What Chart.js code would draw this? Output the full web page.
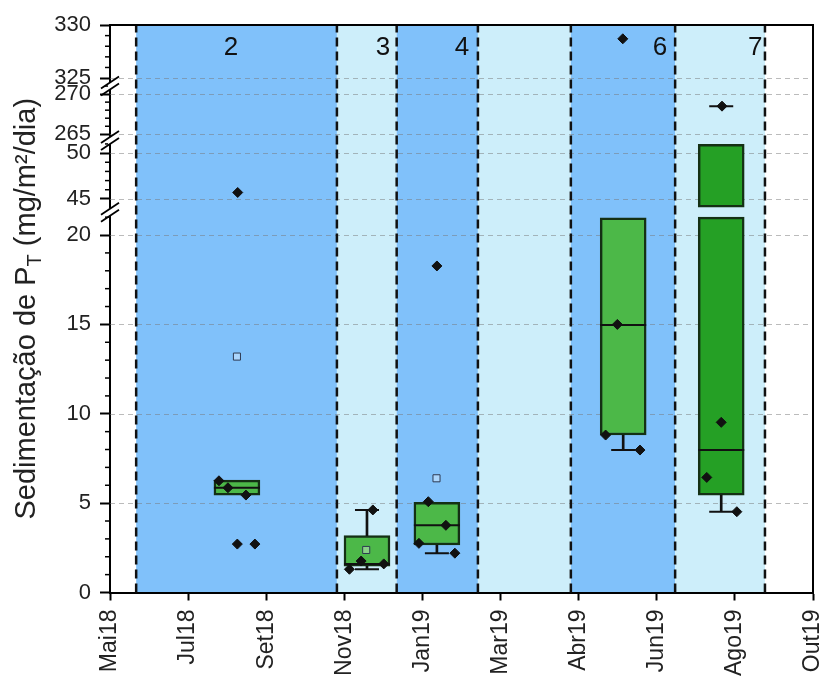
<!DOCTYPE html>
<html>
<head>
<meta charset="utf-8">
<script src="https://cdn.jsdelivr.net/npm/chart.js@4.4.1/dist/chart.umd.min.js"></script>
<style>
  html, body { margin: 0; padding: 0; background: #fff; }
  #wrap { width: 825px; height: 679px; }
</style>
</head>
<body>
<div id="wrap"><canvas id="c" width="825" height="679"></canvas></div>
<script>
// ── Data (x = months since May 2018) ─────────────────────────────────────────

const X_TICK_LABELS = ['Mai18', 'Jul18', 'Set18', 'Nov18', 'Jan19', 'Mar19', 'Abr19', 'Jun19', 'Ago19', 'Out19'];

// campaign periods (shaded bands)
const BAND_START  = [0.67, 5.81, 7.34, 9.42, 11.80, 14.47];
const BAND_END    = [5.81, 7.34, 9.42, 11.80, 14.47, 16.77];
const BAND_LABELS = ['2', '3', '4', '', '6', '7'];
const BAND_LABEL_X = [3.10, 6.99, 9.01, null, 14.08, 16.52];

// box plots
const BOX_X    = [3.25, 6.58, 8.37, 13.14, 15.65];
const BOX_Q1   = [5.45, 1.48, 2.66, 8.81, 5.45];
const BOX_MED  = [5.86, 1.60, 3.76, 14.97, 7.97];
const BOX_Q3   = [6.29, 3.18, 5.05, 20.97, 50.95];
const WHISK_LO = [null, 1.30, 2.20, 7.97, 4.52];
const WHISK_HI = [null, 4.62, null, null, 268.5];

// individual samples
const PT_X = [2.79, 3.02, 3.48, 3.26, 3.71, 3.27,
              6.13, 6.43, 7.01, 6.73,
              8.15, 8.60, 7.91, 8.83, 8.37,
              12.69, 12.99, 13.57, 13.13,
              15.65, 15.28, 16.05, 15.67];
const PT_Y = [6.25, 5.86, 5.45, 2.71, 2.71, 45.7,
              1.30, 1.76, 1.60, 4.62,
              5.08, 3.76, 2.75, 2.20, 18.27,
              8.81, 15.0, 7.97, 328.7,
              9.52, 6.44, 4.52, 268.5];

// means (open squares)
const MEAN_X = [3.25, 6.56, 8.36];
const MEAN_Y = [13.2, 2.38, 6.39];

// ── Broken y axis layout (value ranges and relative heights) ────────────────

const Y_PIECES = [
  { min: 0,      max: 21,   size: 375 },
  { gap: 10 },
  { min: 44.1,   max: 51.2, size: 65 },
  { gap: 3 },
  { min: 264.4,  max: 271,  size: 53 },
  { gap: 0 },
  { min: 324.25, max: 330,  size: 61 },
];

// ── Styles ───────────────────────────────────────────────────────────────────

const FONT = "'Liberation Sans', Arial, sans-serif";
const BAND_FILL = ['#80c1fa', '#cdeefa'];
const BOX_FILL  = ['#4cb848', '#4cb848', '#4cb848', '#4cb848', '#25a025'];
const BOX_EDGE  = '#143014';

Chart.defaults.font.family = FONT;
Chart.defaults.color = '#222';

// ── Custom scale: linear pieces with breaks ─────────────────────────────────

class BrokenLinearScale extends Chart.LinearScale {
  determineDataLimits() {
    const segs = Y_PIECES.filter(p => p.gap === undefined);
    this.min = segs[0].min;
    this.max = segs[segs.length - 1].max;
  }
  buildTicks() {
    const ticks = [];
    Y_PIECES.forEach(p => {
      if (p.gap !== undefined) return;
      for (let v = Math.ceil(p.min); v <= Math.floor(p.max); v++) ticks.push({ value: v, major: v % 5 === 0 });
    });
    return ticks;
  }
  _total() { return Y_PIECES.reduce((s, p) => s + (p.gap !== undefined ? p.gap : p.size), 0); }
  getPixelForValue(value) {
    if (value === null || value === undefined || isNaN(value)) return NaN;
    const total = this._total();
    let acc = 0;
    for (const p of Y_PIECES) {
      if (p.gap !== undefined) { acc += p.gap; continue; }
      if (value <= p.max) {
        const t = Math.max(0, (value - p.min) / (p.max - p.min));
        return this.getPixelForDecimal((acc + t * p.size) / total);
      }
      acc += p.size;
    }
    return this.getPixelForDecimal(1);
  }
  getValueForPixel(pixel) {
    const total = this._total();
    const d = this.getDecimalForPixel(pixel) * total;
    let acc = 0;
    for (const p of Y_PIECES) {
      if (p.gap !== undefined) { acc += p.gap; continue; }
      if (d <= acc + p.size) return p.min + Math.max(0, d - acc) / p.size * (p.max - p.min);
      acc += p.size;
    }
    return this.max;
  }
  // pixel centres of the breaks
  breakPixels() {
    const total = this._total();
    const out = [];
    let acc = 0;
    for (const p of Y_PIECES) {
      if (p.gap !== undefined) { out.push(this.getPixelForDecimal((acc + p.gap / 2) / total)); acc += p.gap; }
      else acc += p.size;
    }
    return out;
  }
}
BrokenLinearScale.id = 'brokenLinear';
BrokenLinearScale.defaults = {};
Chart.register(BrokenLinearScale);

// ── Build box plot pieces ───────────────────────────────────────────────────

const pieceOf = v => Y_PIECES.findIndex(p => p.gap === undefined && v >= p.min && v <= p.max);

const boxSegs = [], boxColors = [];
BOX_X.forEach((x, i) => {
  Y_PIECES.forEach(p => {
    if (p.gap !== undefined) return;
    const lo = Math.max(BOX_Q1[i], p.min), hi = Math.min(BOX_Q3[i], p.max);
    if (lo < hi) { boxSegs.push({ x, y: [lo, hi] }); boxColors.push(BOX_FILL[i]); }
  });
});

const stems = [], caps = [];
BOX_X.forEach((x, i) => {
  if (WHISK_LO[i] !== null) {
    caps.push({ x, y: WHISK_LO[i] });
    if (pieceOf(WHISK_LO[i]) === pieceOf(BOX_Q1[i])) stems.push({ x, y: [WHISK_LO[i], BOX_Q1[i]] });
  }
  if (WHISK_HI[i] !== null) {
    caps.push({ x, y: WHISK_HI[i] });
    if (pieceOf(WHISK_HI[i]) === pieceOf(BOX_Q3[i])) stems.push({ x, y: [BOX_Q3[i], WHISK_HI[i]] });
  }
});

const medians = BOX_X.map((x, i) => ({ x, y: BOX_MED[i] }));
const points  = PT_X.map((x, i) => ({ x, y: PT_Y[i] }));
const means   = MEAN_X.map((x, i) => ({ x, y: MEAN_Y[i] }));

// ── Decorations plugin ──────────────────────────────────────────────────────

const decor = {
  id: 'decor',
  beforeDraw(chart) {
    const { ctx, chartArea: a, scales: { x } } = chart;
    ctx.save();
    BAND_START.forEach((s, i) => {
      const x0 = x.getPixelForValue(s), x1 = x.getPixelForValue(BAND_END[i]);
      ctx.fillStyle = BAND_FILL[i % 2];
      ctx.fillRect(x0, a.top, x1 - x0, a.bottom - a.top);
    });
    ctx.restore();
  },
  beforeDatasetsDraw(chart) {
    const { ctx, chartArea: a, scales: { x, y } } = chart;
    ctx.save();
    // dashed grid at labelled values
    ctx.strokeStyle = 'rgba(120,120,120,0.5)';
    ctx.lineWidth = 1;
    ctx.setLineDash([5, 4]);
    y.ticks.forEach(t => {
      if (t.value % 5 !== 0 || t.value === 0 || t.value === 330) return;
      const py = Math.round(y.getPixelForValue(t.value)) + 0.5;
      ctx.beginPath(); ctx.moveTo(a.left, py); ctx.lineTo(a.right, py); ctx.stroke();
    });
    // campaign boundaries
    ctx.strokeStyle = '#111';
    ctx.lineWidth = 2.5;
    ctx.setLineDash([9, 5]);
    const bounds = BAND_START.concat([BAND_END[BAND_END.length - 1]]);
    bounds.forEach(b => {
      const px = x.getPixelForValue(b);
      ctx.beginPath(); ctx.moveTo(px, a.bottom); ctx.lineTo(px, a.top); ctx.stroke();
    });
    ctx.restore();
  },
  afterDatasetsDraw(chart) {
    const { ctx, chartArea: a, scales: { x } } = chart;
    ctx.save();
    ctx.fillStyle = '#111';
    ctx.font = `26px ${FONT}`;
    ctx.textAlign = 'center';
    ctx.textBaseline = 'middle';
    BAND_LABELS.forEach((lbl, i) => {
      if (!lbl) return;
      ctx.fillText(lbl, x.getPixelForValue(BAND_LABEL_X[i]), a.top + 23);
    });
    ctx.restore();
  },
  afterDraw(chart) {
    const { ctx, chartArea: a, scales: { y } } = chart;
    ctx.save();
    // frame
    ctx.strokeStyle = '#000';
    ctx.lineWidth = 2;
    ctx.beginPath();
    ctx.moveTo(a.left, a.top); ctx.lineTo(a.right, a.top); ctx.lineTo(a.right, a.bottom);
    ctx.stroke();
    // minor ticks
    ctx.lineWidth = 1.5;
    y.ticks.forEach(t => {
      if (t.value % 5 === 0) return;
      const py = y.getPixelForValue(t.value);
      ctx.beginPath(); ctx.moveTo(a.left - 5, py); ctx.lineTo(a.left, py); ctx.stroke();
    });
    // axis breaks
    y.breakPixels().forEach(cy => {
      ctx.fillStyle = '#fff';
      ctx.fillRect(a.left - 2, cy - 3.5, 4, 7);
      ctx.strokeStyle = '#000';
      ctx.lineWidth = 1.8;
      [-3.5, 3.5].forEach(o => {
        ctx.beginPath();
        ctx.moveTo(a.left - 9, cy + o + 6);
        ctx.lineTo(a.left + 9, cy + o - 6);
        ctx.stroke();
      });
    });
    // y title with subscript
    ctx.fillStyle = '#222';
    ctx.translate(27, (a.top + a.bottom) / 2);
    ctx.rotate(-Math.PI / 2);
    const big = `29px ${FONT}`, small = `20px ${FONT}`;
    const p1 = 'Sedimentação de P', s = 'T', p2 = ' (mg/m²/dia)';
    ctx.font = big;
    const w1 = ctx.measureText(p1).width, w2 = ctx.measureText(p2).width;
    ctx.font = small;
    const ws = ctx.measureText(s).width;
    let tx = -(w1 + ws + w2) / 2;
    ctx.textBaseline = 'middle';
    ctx.textAlign = 'left';
    ctx.font = big;   ctx.fillText(p1, tx, 0); tx += w1;
    ctx.font = small; ctx.fillText(s, tx, 8);  tx += ws;
    ctx.font = big;   ctx.fillText(p2, tx, 0);
    ctx.restore();
  }
};

// ── Chart ───────────────────────────────────────────────────────────────────

new Chart(document.getElementById('c'), {
  type: 'bar',
  data: {
    datasets: [
      {
        type: 'scatter', label: 'samples', data: points, order: 0,
        pointStyle: 'rectRot', radius: 5, backgroundColor: '#111', borderColor: '#111', borderWidth: 1,
      },
      {
        type: 'scatter', label: 'mean', data: means, order: 1,
        pointStyle: 'rect', radius: 5, backgroundColor: 'rgba(255,255,255,0.35)', borderColor: '#2e3a52', borderWidth: 1,
      },
      {
        type: 'scatter', label: 'median', data: medians, order: 2,
        pointStyle: 'line', radius: 23, borderColor: '#111', borderWidth: 2,
      },
      {
        type: 'scatter', label: 'caps', data: caps, order: 3,
        pointStyle: 'line', radius: 12, borderColor: '#111', borderWidth: 2,
      },
      {
        type: 'bar', label: 'whiskers', data: stems, order: 4,
        backgroundColor: '#111', barThickness: 2, grouped: false, borderWidth: 0,
      },
      {
        type: 'bar', label: 'boxes', data: boxSegs, order: 5,
        backgroundColor: boxColors, borderColor: BOX_EDGE, borderWidth: 2.5,
        borderSkipped: false, barThickness: 46, grouped: false,
      },
    ],
  },
  options: {
    responsive: false,
    animation: false,
    events: [],
    layout: { autoPadding: false, padding: { top: 25, right: 12, left: 0, bottom: 0 } },
    plugins: { legend: { display: false }, tooltip: { enabled: false } },
    scales: {
      x: {
        type: 'linear', min: 0, max: 18, offset: false,
        afterFit: s => { s.height = 86.5; s.paddingLeft = 0; s.paddingRight = 0; },
        ticks: {
          stepSize: 2, autoSkip: false, minRotation: 90, maxRotation: 90, padding: 9,
          font: { size: 23 }, color: '#222',
          callback: v => X_TICK_LABELS[Math.round(v / 2)],
        },
        grid: { offset: false, drawOnChartArea: false, tickLength: 8, tickWidth: 2, tickColor: '#000' },
        border: { color: '#000', width: 2 },
      },
      y: {
        type: 'brokenLinear',
        afterFit: s => { s.width = 110; s.paddingTop = 0; s.paddingBottom = 0; },
        ticks: {
          autoSkip: false, padding: 9, font: { size: 22 }, color: '#222',
          callback: v => (v % 5 === 0 ? String(v) : ''),
        },
        grid: {
          drawOnChartArea: false, tickLength: 10, tickWidth: 2,
          tickColor: c => (c.tick && c.tick.value % 5 === 0 ? '#000' : 'rgba(0,0,0,0)'),
        },
        border: { color: '#000', width: 2 },
      },
    },
  },
  plugins: [decor],
});
</script>
</body>
</html>
